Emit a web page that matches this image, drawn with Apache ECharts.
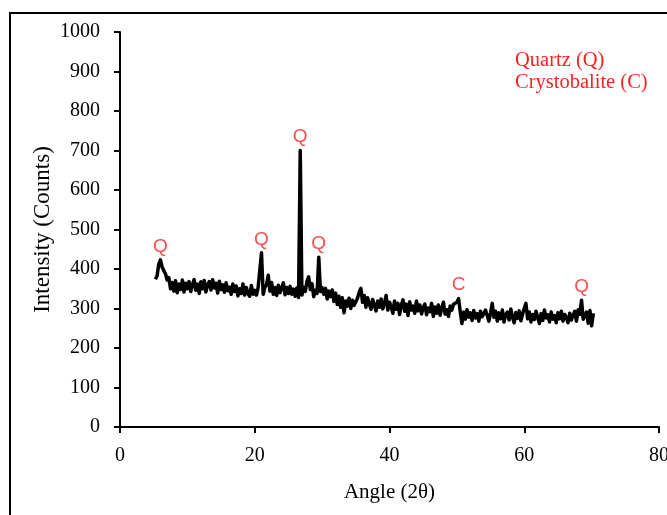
<!DOCTYPE html>
<html>
<head>
<meta charset="utf-8">
<title>XRD pattern</title>
<script src="https://cdn.jsdelivr.net/npm/echarts@6/dist/echarts.min.js"></script>
<style>
  html, body { margin: 0; padding: 0; background: #fff; }
  #chart { width: 667px; height: 515px; }
</style>
</head>
<body>
<div id="chart"></div>
<script>
// Diffractometer scan: first angle and fixed step (degrees 2θ)
const scanStart = 5.25;
const scanStep = 0.25;

// Measured counts, one value per step from 5.25° to 70.25°
const intensity = [
  // 5.25 – 10.0
  374, 382, 412, 423, 405, 396, 388, 372, 378, 350, 366, 344, 370, 340, 362, 348, 372, 342, 364, 350,
  // 10.25 – 15.0
  368, 343, 360, 373, 346, 362, 338, 368, 350, 371, 342, 360, 368, 347, 373, 352, 364, 339, 369, 348,
  // 15.25 – 20.0
  360, 341, 365, 345, 354, 336, 362, 343, 357, 332, 350, 338, 362, 334, 353, 338, 331, 358, 336, 346,
  // 20.25 – 25.0
  334, 353, 348, 441, 336, 354, 360, 384, 344, 366, 336, 353, 333, 359, 340, 352, 365, 335, 353, 338,
  // 25.25 – 30.0
  356, 336, 349, 331, 352, 328, 700, 334, 353, 343, 369, 380, 348, 363, 330, 346, 338, 430, 343, 353,
  // 30.25 – 35.0
  336, 351, 324, 344, 330, 347, 318, 339, 310, 331, 303, 327, 289, 319, 306, 326, 300, 321, 308, 317,
  // 35.25 – 40.0
  326, 341, 351, 316, 333, 303, 327, 312, 298, 323, 308, 294, 319, 303, 324, 299, 313, 333, 296, 316,
  // 40.25 – 45.0
  304, 288, 319, 298, 313, 285, 309, 322, 293, 311, 282, 317, 296, 306, 288, 319, 294, 309, 286, 303,
  // 45.25 – 50.0
  311, 284, 301, 292, 313, 280, 304, 288, 309, 283, 300, 316, 286, 297, 280, 306, 296, 311, 306, 316,
  // 50.25 – 55.0
  325, 292, 262, 291, 273, 297, 278, 289, 270, 295, 276, 287, 268, 293, 279, 274, 296, 282, 268, 289,
  // 55.25 – 60.0
  313, 278, 293, 268, 289, 274, 296, 266, 285, 291, 271, 299, 278, 264, 290, 275, 294, 269, 286, 300,
  // 60.25 – 65.0
  313, 274, 291, 266, 285, 272, 293, 277, 262, 287, 270, 296, 276, 284, 266, 291, 273, 282, 264, 289,
  // 65.25 – 70.25
  274, 293, 268, 285, 277, 264, 288, 271, 283, 293, 268, 297, 285, 321, 273, 281, 291, 263, 295, 256, 288
];

// Identified reflections: angle, counts at the peak top, phase letter
const peakAngles = [6.0, 21.0, 26.75, 29.5, 50.25, 68.5];
const peakIntensities = [423, 441, 700, 430, 325, 321];
const peakPhases = ['Q', 'Q', 'Q', 'Q', 'C', 'Q'];

// Phase key
const phaseKey = ['Quartz (Q)', 'Crystobalite (C)'];

// Axis settings
const xTicks = { min: 0, max: 80, interval: 20 };
const yTicks = { min: 0, max: 1000, interval: 100 };

const serif = '"Liberation Serif", "Times New Roman", serif';
const sans = '"Liberation Sans", Arial, sans-serif';
const red = '#ff1f1f';

const scan = intensity.map((v, i) => [+(scanStart + i * scanStep).toFixed(2), v]);
const peaks = peakAngles.map((a, i) => ({ value: [a, peakIntensities[i]], name: peakPhases[i] }));

const chart = echarts.init(document.getElementById('chart'), null, { renderer: 'canvas' });

chart.setOption({
  animation: false,
  backgroundColor: '#fff',
  grid: { left: 120, right: 8, top: 32, bottom: 88, containLabel: false, outerBoundsMode: 'none' },
  xAxis: {
    type: 'value',
    min: xTicks.min, max: xTicks.max, interval: xTicks.interval,
    name: 'Angle (2θ)',
    nameLocation: 'middle',
    nameGap: 55,
    nameMoveOverlap: false,
    nameTextStyle: { fontFamily: serif, fontSize: 21, color: '#000' },
    axisLine: { show: true, onZero: false, lineStyle: { color: '#000', width: 2 } },
    axisTick: { show: true, inside: false, length: 6, lineStyle: { color: '#000', width: 2 } },
    axisLabel: { fontFamily: serif, fontSize: 20, color: '#000', margin: 19, formatter: v => String(v) },
    splitLine: { show: false }
  },
  yAxis: {
    type: 'value',
    min: yTicks.min, max: yTicks.max, interval: yTicks.interval,
    name: 'Intensity (Counts)',
    nameLocation: 'middle',
    nameGap: 66,
    nameRotate: 90,
    nameMoveOverlap: false,
    nameTextStyle: { fontFamily: serif, fontSize: 23, color: '#000' },
    axisLine: { show: true, lineStyle: { color: '#000', width: 2 } },
    axisTick: { show: true, inside: false, length: 6, lineStyle: { color: '#000', width: 2 } },
    axisLabel: { fontFamily: serif, fontSize: 20, color: '#000', margin: 20, formatter: v => String(v) },
    splitLine: { show: false }
  },
  series: [
    {
      name: 'XRD',
      type: 'line',
      data: scan,
      showSymbol: false,
      symbol: 'none',
      lineStyle: { color: '#000', width: 3.5, join: 'round' },
      z: 3
    },
    {
      name: 'phases',
      type: 'scatter',
      data: peaks,
      symbolSize: 0,
      silent: true,
      label: {
        show: true,
        position: 'top',
        distance: 4,
        formatter: p => p.name,
        fontFamily: sans,
        fontSize: 19,
        color: red
      },
      z: 4
    }
  ],
  graphic: [
    {
      type: 'rect',
      shape: { x: 10, y: 13, width: 720, height: 600 },
      style: { fill: 'none', stroke: '#000', lineWidth: 2 },
      silent: true
    },
    {
      type: 'text',
      left: 515, top: 50,
      style: { text: phaseKey[0], fontFamily: serif, fontSize: 20.5, fill: red }
    },
    {
      type: 'text',
      left: 515, top: 72,
      style: { text: phaseKey[1], fontFamily: serif, fontSize: 20.5, fill: red }
    }
  ]
});
</script>
</body>
</html>
